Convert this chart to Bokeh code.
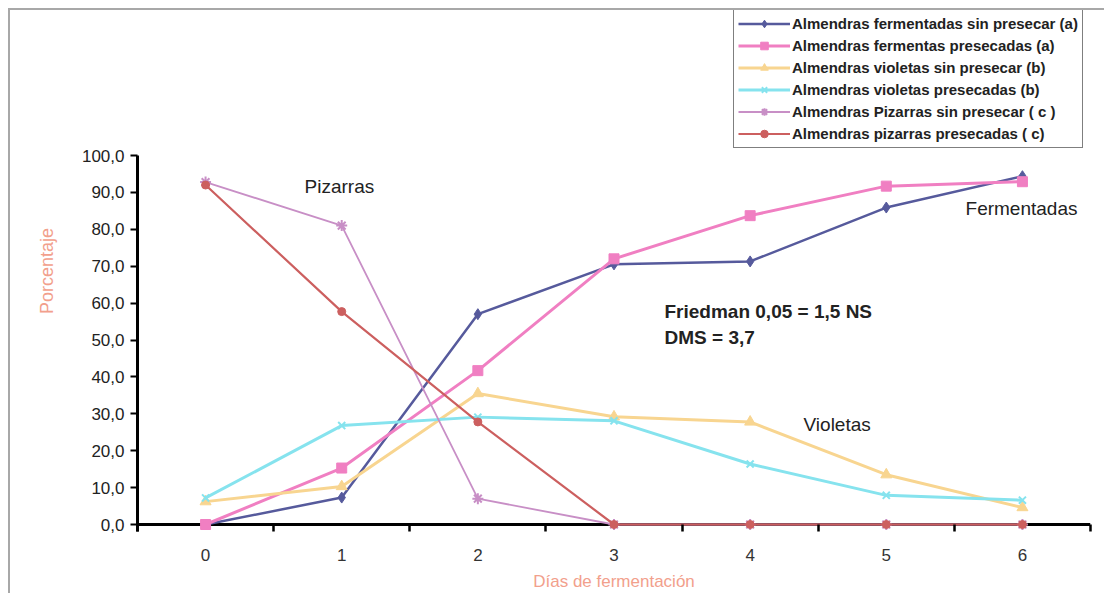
from bokeh.plotting import figure
from bokeh.models import (FixedTicker, Legend, LegendItem, Label, Range1d, Span)
from bokeh.embed import file_html
from bokeh.resources import INLINE

# ---------------- data ----------------
days = [0, 1, 2, 3, 4, 5, 6]
day_labels = ["0", "1", "2", "3", "4", "5", "6"]

ferm_sin = [0.0, 7.3, 57.0, 70.5, 71.3, 85.9, 94.4]
ferm_pre = [0.0, 15.3, 41.7, 72.0, 83.7, 91.7, 92.9]
viol_sin = [6.2, 10.3, 35.5, 29.2, 27.8, 13.5, 4.6]
viol_pre = [7.2, 26.8, 29.1, 28.1, 16.4, 7.9, 6.6]
piz_sin = [92.8, 81.0, 7.0, 0.0, 0.0, 0.0, 0.0]
piz_pre = [92.0, 57.7, 27.8, 0.0, 0.0, 0.0, 0.0]

series_names = [
    "Almendras fermentadas sin presecar (a)",
    "Almendras fermentas presecadas (a)",
    "Almendras violetas sin presecar (b)",
    "Almendras violetas presecadas (b)",
    "Almendras Pizarras sin presecar ( c )",
    "Almendras pizarras presecadas ( c)",
]

y_ticks = [0, 10, 20, 30, 40, 50, 60, 70, 80, 90, 100]
y_tick_labels = ["0,0", "10,0", "20,0", "30,0", "40,0", "50,0",
                 "60,0", "70,0", "80,0", "90,0", "100,0"]
category_edges = [-0.5, 0.5, 1.5, 2.5, 3.5, 4.5, 5.5, 6.5]

# ---------------- styles ----------------
FONT = "Liberation Sans"
styles = [
    dict(color="#565a9c", lw=2.5, marker="diamond", size=11),
    dict(color="#f07fc2", lw=3.0, marker="square", size=10),
    dict(color="#f8d590", lw=3.0, marker="triangle", size=11),
    dict(color="#86e3ee", lw=3.0, marker="x", size=10),
    dict(color="#c88fc6", lw=1.8, marker="asterisk", size=11),
    dict(color="#cc5f5f", lw=2.2, marker="circle", size=8),
]
all_series = [ferm_sin, ferm_pre, viol_sin, viol_pre, piz_sin, piz_pre]

p = figure(width=1096, height=585,
           x_range=Range1d(-0.5, 6.5), y_range=Range1d(-1.897, 139.3),
           output_backend="svg", toolbar_location=None,
           min_border_left=127, min_border_right=16,
           min_border_top=0, min_border_bottom=64)
p.margin = (8, 0, 0, 8)
p.styles = {"border-top": "2px solid #a8a8a8", "border-left": "2px solid #a8a8a8"}
p.grid.visible = False
p.outline_line_color = None
p.background_fill_color = "white"
p.border_fill_color = "white"

# x axis baseline (drawn under the series)
p.add_layout(Span(location=0, dimension="width", line_color="black",
                  line_width=3, level="underlay"))

items = []
for name, vals, st in zip(series_names, all_series, styles):
    r_line = p.line(days, vals, line_color=st["color"], line_width=st["lw"])
    if st["marker"] in ("x", "asterisk"):
        r_mark = p.scatter(days, vals, marker=st["marker"], size=st["size"],
                           line_color=st["color"], line_width=2)
    else:
        r_mark = p.scatter(days, vals, marker=st["marker"], size=st["size"],
                           fill_color=st["color"], line_color=st["color"])
    items.append(LegendItem(label=name, renderers=[r_line, r_mark]))

legend = Legend(items=items, location=(596, 383),
                border_line_color="black", border_line_width=1,
                background_fill_color="white", background_fill_alpha=1,
                label_text_font=FONT, label_text_font_size="15px",
                label_text_font_style="bold", label_text_color="#222222",
                glyph_width=52, glyph_height=19, label_height=19,
                spacing=3, padding=4, margin=0, label_standoff=2)
p.add_layout(legend, "center")

# y axis
yax = p.yaxis[0]
yax.bounds = (-1.897, 100)
yax.ticker = FixedTicker(ticks=y_ticks)
yax.major_label_overrides = {t: l for t, l in zip(y_ticks, y_tick_labels)}
yax.axis_line_width = 3
yax.axis_line_color = "black"
yax.major_tick_line_width = 2
yax.major_tick_line_color = "black"
yax.major_tick_out = 7
yax.major_tick_in = 0
yax.minor_tick_line_color = None
yax.major_label_text_font = FONT
yax.major_label_text_font_size = "17px"
yax.major_label_text_color = "#222222"
yax.major_label_standoff = 6
yax.axis_label = "Porcentaje"
yax.axis_label_text_font = FONT
yax.axis_label_text_font_size = "18px"
yax.axis_label_text_font_style = "normal"
yax.axis_label_text_color = "#f2a08c"
yax.axis_label_standoff = 22

# x axis
xax = p.xaxis[0]
xax.axis_line_color = None
xax.ticker = FixedTicker(ticks=days, minor_ticks=category_edges)
xax.major_label_overrides = {d: l for d, l in zip(days, day_labels)}
xax.major_tick_line_color = None
xax.major_tick_in = 0
xax.major_tick_out = 0
xax.minor_tick_line_color = "black"
xax.minor_tick_line_width = 2.5
xax.minor_tick_in = 7
xax.minor_tick_out = 0
xax.major_label_text_font = FONT
xax.major_label_text_font_size = "17px"
xax.major_label_text_color = "#333333"
xax.major_label_standoff = 17
xax.axis_label = "Días de fermentación"
xax.axis_label_text_font = FONT
xax.axis_label_text_font_size = "17px"
xax.axis_label_text_font_style = "normal"
xax.axis_label_text_color = "#f2a08c"
xax.axis_label_standoff = 8

# annotations
def add_label(x, y, text, size="19px", style="normal"):
    p.add_layout(Label(x=x, y=y, text=text, text_font=FONT,
                       text_font_size=size, text_font_style=style,
                       text_color="#222222", text_baseline="middle",
                       text_align="left"))

add_label(0.727, 91.6, "Pizarras")
add_label(5.582, 85.6, "Fermentadas")
add_label(4.392, 27.1, "Violetas")
add_label(3.371, 57.7, "Friedman 0,05 = 1,5 NS", style="bold")
add_label(3.371, 50.7, "DMS = 3,7", style="bold")

open("out.html", "w").write(file_html(p, INLINE))
